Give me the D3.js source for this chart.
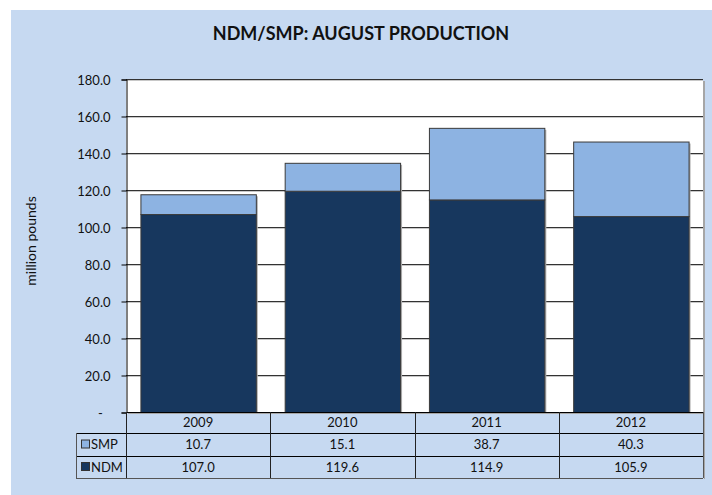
<!DOCTYPE html>
<html>
<head>
<meta charset="utf-8">
<script src="https://cdn.jsdelivr.net/npm/d3@7"></script>
<style>
  body { margin: 0; background: #fff; }
  svg { display: block; font-family: Lato, "Open Sans", sans-serif; }
</style>
</head>
<body>
<svg id="chart"></svg>
<script>
// chart values
const years = ["2009", "2010", "2011", "2012"];
const ndm = [107.0, 119.6, 114.9, 105.9];
const smp = [10.7, 15.1, 38.7, 40.3];
const yTicks = [0, 20, 40, 60, 80, 100, 120, 140, 160, 180];
const seriesNames = ["SMP", "NDM"];

const width = 712;
const height = 495;
const plot = { left: 126, right: 703, top: 79, bottom: 412 };
const rowH = [21, 23, 22];

const colors = { SMP: "#8db3e2", NDM: "#17375e" };

const svg = d3.select("#chart")
    .attr("width", width)
    .attr("height", height);

// blue chart area
svg.append("rect")
    .attr("x", 11).attr("y", 10)
    .attr("width", width - 11).attr("height", height - 10)
    .attr("fill", "#c6d9f1");

svg.append("text")
    .attr("x", 361).attr("y", 40)
    .attr("text-anchor", "middle")
    .attr("font-size", "18px")
    .attr("font-weight", "bold")
    .attr("fill", "#111")
    .text("NDM/SMP: AUGUST PRODUCTION");

const x = d3.scaleBand()
    .domain(years)
    .range([plot.left, plot.right])
    .paddingInner(0.2)
    .paddingOuter(0.1);

const y = d3.scaleLinear()
    .domain([0, 180])
    .range([plot.bottom, plot.top]);

// plot background with shadow on the right
svg.append("rect")
    .attr("x", plot.left + 2).attr("y", plot.top + 2)
    .attr("width", plot.right - plot.left).attr("height", plot.bottom - plot.top)
    .attr("fill", "#a6a6a6");
svg.append("rect")
    .attr("x", plot.left).attr("y", plot.top)
    .attr("width", plot.right - plot.left).attr("height", plot.bottom - plot.top)
    .attr("fill", "#fff");

// gridlines
const grid = svg.append("g");
grid.selectAll("line.shadow")
    .data(yTicks.slice(1))
    .enter().append("line")
    .attr("class", "shadow")
    .attr("x1", plot.left).attr("x2", plot.right)
    .attr("y1", d => Math.round(y(d)) + 1.5).attr("y2", d => Math.round(y(d)) + 1.5)
    .attr("stroke", "#c8c8c8");
grid.selectAll("line.main")
    .data(yTicks.slice(1))
    .enter().append("line")
    .attr("class", "main")
    .attr("x1", plot.left).attr("x2", plot.right)
    .attr("y1", d => Math.round(y(d)) + 0.5).attr("y2", d => Math.round(y(d)) + 0.5)
    .attr("stroke", "#333");

// stacked bars
const stackData = years.map((yr, i) => ({ year: yr, NDM: ndm[i], SMP: smp[i] }));
const stacked = d3.stack().keys(["NDM", "SMP"])(stackData);

// soft shadow at the right of each bar
svg.append("g").selectAll("rect")
    .data(stackData)
    .enter().append("rect")
    .attr("x", d => x(d.year) + 2)
    .attr("y", d => y(d.NDM + d.SMP) + 2)
    .attr("width", x.bandwidth())
    .attr("height", d => y(0) - y(d.NDM + d.SMP) - 2)
    .attr("fill", "#b0b0b0");

svg.append("g").selectAll("g")
    .data(stacked)
    .enter().append("g")
    .attr("fill", d => colors[d.key])
    .selectAll("rect")
    .data(d => d)
    .enter().append("rect")
    .attr("x", d => x(d.data.year) + 0.5)
    .attr("y", d => y(d[1]) + 0.5)
    .attr("width", x.bandwidth())
    .attr("height", d => y(d[0]) - y(d[1]))
    .attr("stroke", "#3a3a3a")
    .attr("stroke-width", 1);

// y axis
const yAxis = d3.axisLeft(y)
    .tickValues(yTicks)
    .tickSize(5)
    .tickFormat(d => d === 0 ? "-" : d3.format(".1f")(d));

const yg = svg.append("g")
    .attr("transform", `translate(${plot.left + 0.5},0.5)`)
    .call(yAxis);
yg.select(".domain").attr("stroke", "#000");
yg.selectAll(".tick line").attr("stroke", "#000");
yg.selectAll(".tick text")
    .attr("font-size", "13px")
    .attr("font-family", "Lato, sans-serif")
    .attr("fill", "#111")
    .attr("x", -16)
    .attr("dy", "0.35em");
yg.selectAll(".tick text").filter(d => d === 0)
    .attr("text-anchor", "middle")
    .attr("x", -26);

svg.append("text")
    .attr("transform", "translate(36,241) rotate(-90)")
    .attr("text-anchor", "middle")
    .attr("font-size", "14px")
    .attr("fill", "#111")
    .text("million pounds");

// data table
const tableLeft = 76;
const rowsY = [plot.bottom, plot.bottom + rowH[0], plot.bottom + rowH[0] + rowH[1], plot.bottom + rowH[0] + rowH[1] + rowH[2]];
const colEdges = years.map(yr => x(yr) - x.step() * x.paddingInner() / 2).concat([plot.right]);

const tbl = svg.append("g");

// horizontal lines
tbl.append("line")
    .attr("x1", plot.left).attr("x2", plot.right)
    .attr("y1", rowsY[0] + 0.5).attr("y2", rowsY[0] + 0.5)
    .attr("stroke", "#000");
[1, 2, 3].forEach(r => {
    tbl.append("line")
        .attr("x1", tableLeft).attr("x2", plot.right)
        .attr("y1", rowsY[r] + 0.5).attr("y2", rowsY[r] + 0.5)
        .attr("stroke", r === 3 ? "#555" : "#000");
});
// vertical lines
tbl.append("line")
    .attr("x1", tableLeft + 0.5).attr("x2", tableLeft + 0.5)
    .attr("y1", rowsY[1]).attr("y2", rowsY[3])
    .attr("stroke", "#555");
colEdges.forEach((cx, i) => {
    tbl.append("line")
        .attr("x1", Math.round(cx) + 0.5).attr("x2", Math.round(cx) + 0.5)
        .attr("y1", rowsY[0]).attr("y2", rowsY[3])
        .attr("stroke", i === colEdges.length - 1 ? "#555" : "#222");
});
tbl.append("line")
    .attr("x1", plot.right + 1.5).attr("x2", plot.right + 1.5)
    .attr("y1", rowsY[0]).attr("y2", rowsY[3] + 1)
    .attr("stroke", "#a6a6a6");

// header row
tbl.selectAll("text.year")
    .data(years)
    .enter().append("text")
    .attr("class", "year")
    .attr("x", d => x(d) + x.bandwidth() / 2)
    .attr("y", rowsY[0] + rowH[0] / 2)
    .attr("dy", "0.36em")
    .attr("text-anchor", "middle")
    .attr("font-size", "13px")
    .attr("fill", "#111")
    .text(d => d);

const rowsData = [smp, ndm];
seriesNames.forEach((name, r) => {
    const cy = rowsY[r + 1] + rowH[r + 1] / 2;
    tbl.append("rect")
        .attr("x", 81.5).attr("y", cy - 4.5)
        .attr("width", 8).attr("height", 8)
        .attr("fill", colors[name])
        .attr("stroke", "#333");
    tbl.append("text")
        .attr("x", 91).attr("y", cy)
        .attr("dy", "0.36em")
        .attr("font-size", "13px")
        .attr("fill", "#111")
        .text(name);
    tbl.selectAll("text.v" + name)
        .data(rowsData[r])
        .enter().append("text")
        .attr("x", (d, i) => x(years[i]) + x.bandwidth() / 2)
        .attr("y", cy)
        .attr("dy", "0.36em")
        .attr("text-anchor", "middle")
        .attr("font-size", "13px")
        .attr("fill", "#111")
        .text(d => d3.format(".1f")(d));
});
</script>
</body>
</html>
